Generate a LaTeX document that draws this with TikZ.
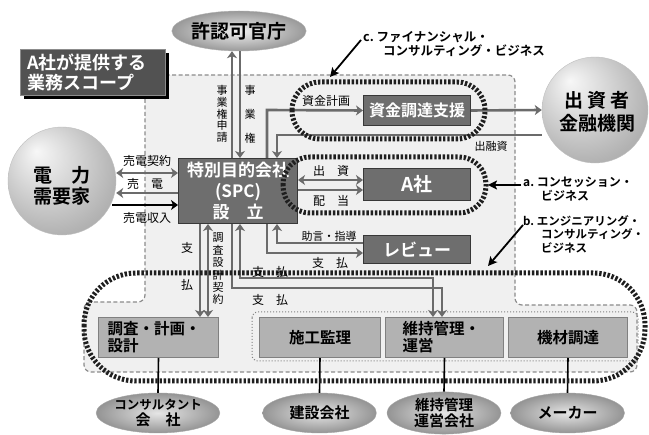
\documentclass[tikz,border=0pt]{standalone}
\usepackage{fontspec}
\setmainfont{Noto Sans CJK JP}[BoldFont={Noto Sans CJK JP Bold}]
\usetikzlibrary{arrows.meta,shapes.geometric,shadows}
\pgfdeclareradialshading{myball}{\pgfpoint{-12bp}{14bp}}{%
  color(0bp)=(black!3); color(10bp)=(black!12); color(30bp)=(black!30); color(45bp)=(black!40); color(50bp)=(black!42)}
\begin{document}
\begin{tikzpicture}[x=1pt,y=-1pt,
  conn/.style={draw=black!58, line width=2.6pt},
  arr/.style={-{Stealth[length=7pt,width=10pt,inset=2pt]}},
  barr/.style={{Stealth[length=7pt,width=10pt,inset=2pt]}-{Stealth[length=7pt,width=10pt,inset=2pt]}},
  annarr/.style={draw=black, line width=1.8pt, -{Stealth[length=9pt,width=9pt,inset=2pt]}},
  darkbox/.style={draw=black!78, line width=1pt, fill=black!57, text=white, inner sep=0pt, anchor=north west, align=center},
  lightbox/.style={draw=black!50, line width=1pt, fill=black!30, font=\bfseries\fontsize{15.5}{17}\selectfont, inner sep=0pt, anchor=north west, minimum height=40pt},
  hdot/.style={draw=black!88, line width=5pt, dash pattern=on 2.4pt off 1.8pt},
  lbl/.style={font=\fontsize{12}{13}\selectfont, inner sep=0pt},
  slbl/.style={font=\fontsize{11}{12}\selectfont, inner sep=0pt},
  ann/.style={font=\bfseries\fontsize{12}{13.5}\selectfont, inner sep=0pt, anchor=north west, align=left},
  org/.style={ellipse, draw=black!35, inner color=black!10, outer color=black!42, minimum width=114pt, minimum height=40pt, inner sep=0pt, align=center, font=\bfseries\fontsize{15}{16}\selectfont},
  sphere/.style={circle, shade, shading=myball, draw=black!25, inner sep=0pt, align=center}
]
\useasboundingbox (0,0) rectangle (649,435);
\fill[white] (0,0) rectangle (649,435);

% scope region
\draw[draw=black!45, fill=black!6, line width=1.2pt, dash pattern=on 4pt off 2.5pt, rounded corners=7pt]
  (300,75) -- (515,75) -- (515,305) -- (637,305) -- (637,372) -- (84,372) -- (84,302) -- (145,302) -- (145,75) -- cycle;
\draw[draw=black!50, line width=1pt, dotted, rounded corners=6pt] (252,312) rectangle (638,361);

% title
\node[fill=black!68, draw=black!45, text=white, font=\bfseries\fontsize{18}{20}\selectfont, align=left,
  anchor=north west, inner xsep=7pt, inner ysep=0pt, text width=131pt, minimum height=46pt,
  drop shadow={shadow xshift=4pt, shadow yshift=-4pt, fill=black, opacity=1}] (title) at (20,49)
  {A社が提供する\\業務スコープ};

% organisations
\node[ellipse, draw=black!30, inner color=black!6, outer color=black!40, minimum width=110pt, minimum height=40pt,
  inner sep=0pt, font=\bfseries\fontsize{19}{20}\selectfont] (kyo) at (239,31) {許認可官庁};
\node[sphere, minimum size=108pt] (cust) at (62,181) {};
\node[font=\bfseries\fontsize{19}{21}\selectfont, align=center, inner sep=0pt] (custt) at (62,186) {電　力\\需要家};
\node[sphere, minimum size=106pt] (inv) at (595,110) {};
\node[font=\bfseries\fontsize{19}{23}\selectfont, align=center, inner sep=0pt] (invt) at (597,112) {出 資 者\\金融機関};

% dark boxes
\node[darkbox, minimum width=119pt, minimum height=65pt, font=\bfseries\fontsize{17}{21}\selectfont] (spc) at (178,158) {特別目的会社\\(SPC)\\設　立};
\node[darkbox, minimum width=107pt, minimum height=30pt, font=\bfseries\fontsize{16}{18}\selectfont] (fund) at (363,95) {資金調達支援};
\node[darkbox, minimum width=107pt, minimum height=32pt, font=\bfseries\fontsize{19}{20}\selectfont] (asha) at (363,168) {A社};
\node[darkbox, minimum width=107pt, minimum height=28pt, font=\bfseries\fontsize{17}{18}\selectfont] (rev) at (363,235) {レビュー};

% bottom boxes
\node[lightbox, minimum width=120pt, text width=102pt, align=left] (b1) at (98,317) {調査・計画・\\設計};
\node[lightbox, minimum width=121pt, align=center] (b2) at (259,317) {施工監理};
\node[lightbox, minimum width=118pt, text width=84pt, align=left] (b3) at (385,317) {維持管理・\\運営};
\node[lightbox, minimum width=119pt, align=center] (b4) at (508,317) {機材調達};

% bottom organisations
\node[org] (o1) at (158,413) {\fontsize{12.5}{15}\selectfont コンサルタント\\会　社};
\node[org] (o2) at (319.5,413) {建設会社};
\node[org] (o3) at (444,413) {\fontsize{14.5}{16}\selectfont 維持管理\\運営会社};
\node[org] (o4) at (567.5,413) {メーカー};
\foreach \b/\o in {b1/o1,b2/o2,b3/o3,b4/o4}
  \draw[black, line width=1.6pt] (\b.south) -- (\o.north);

% connectors: licence authority
\draw[conn, arr] (spc.north -| 232,0) -- (kyo.south -| 232,0);
\draw[conn, arr] (kyo.south -| 240,0) -- (spc.north -| 240,0);
\node[slbl, align=center, font=\fontsize{11}{11.8}\selectfont] (l1) at (222,114) {事\\業\\権\\申\\請};
\node[slbl, align=center, font=\fontsize{11}{24}\selectfont] (l2) at (250,114) {事\\業\\権};

% finance
\draw[conn, arr] (spc.north -| 267,0) -- (267,110) -- (fund.west);
\draw[conn, arr] (fund.east) -- (inv.west |- 0,110);
\draw[conn, arr] (inv.west |- 0,135) -- (277,135) -- (spc.north -| 277,0);
\node[lbl] (l3) at (326,101) {資金計画};
\node[slbl] (l4) at (491,146) {出融資};

% customers
\draw[conn, barr] (cust.east |- 0,173) -- (spc.west |- 0,173);
\draw[conn, arr] (spc.west |- 0,193) -- (cust.east |- 0,193);
\draw[black, line width=2.6pt, arr] ([xshift=-4pt]cust.east |- 0,205) -- (spc.west |- 0,205);
\node[lbl] (l5) at (147,161) {売電契約};
\node[lbl] (l6) at (145,184) {売　電};
\node[lbl] (l7) at (147,218) {売電収入};

% A社
\draw[conn, barr] (spc.east |- 0,180) -- (asha.west |- 0,180);
\draw[conn, arr] (spc.east |- 0,190) -- (asha.west |- 0,190);
\node[lbl] (l8) at (331,171) {出　資};
\node[lbl] (l9) at (331,201) {配　当};

% review
\draw[conn, arr] (rev.west |- 0,243) -- (277,243) -- (spc.south -| 277,0);
\draw[conn, arr] (spc.south -| 267,0) -- (267,253) -- (rev.west |- 0,253);
\node[slbl] (l10) at (329,236) {助言・指導};
\node[lbl] (l11) at (330,263) {支　払};

% bottom payments
\draw[conn, arr] (spc.south -| 200,0) -- (b1.north -| 200,0);
\draw[conn, barr] (spc.south -| 208,0) -- (b1.north -| 208,0);
\draw[conn, arr] (spc.south -| 232,0) -- (232,288) -- (442,288) -- (b3.north -| 442,0);
\draw[conn, barr] (spc.south -| 240,0) -- (240,278) -- (433,278) -- (b3.north -| 433,0);

% business outlines
\draw[hdot, rounded corners=28pt] (292,82) rectangle (485,139);
\draw[hdot, rounded corners=27pt] (283,157) rectangle (486,213);
\draw[hdot, rounded corners=52pt] (84,273) rectangle (645,381);

% labels over outlines
\node[lbl] (l12) at (187,248) {支};
\node[lbl] (l13) at (187,285) {払};
\node[slbl, align=center, font=\fontsize{11}{12.4}\selectfont] (l14) at (218,269) {調\\査\\設\\計\\契\\約};
\node[lbl] (l15) at (270,272) {支　払};
\node[lbl] (l16) at (270,300) {支　払};

% annotations
\node[ann, font=\bfseries\fontsize{12.5}{14}\selectfont] (cann) at (363,31) {c.\ ファイナンシャル・\\\hspace*{20pt}コンサルティング・ビジネス};
\node[ann] (aann) at (523,177) {a.\ コンセッション・\\\hspace*{18pt}ビジネス};
\node[ann, font=\bfseries\fontsize{11.5}{13.5}\selectfont] (bann) at (523,215) {b.\ エンジニアリング・\\\hspace*{18pt}コンサルティング・\\\hspace*{18pt}ビジネス};
\coordinate (cs) at (361,40);
\coordinate (ct) at (330,77);
\coordinate (as) at (521,185);
\coordinate (at) at (488,185);
\coordinate (bs) at (523,225);
\coordinate (bt) at (488,266);
\draw[annarr] (cs) -- (ct);
\draw[annarr] (as) -- (at);
\draw[annarr] (bs) -- (bt);
\end{tikzpicture}
\end{document}
